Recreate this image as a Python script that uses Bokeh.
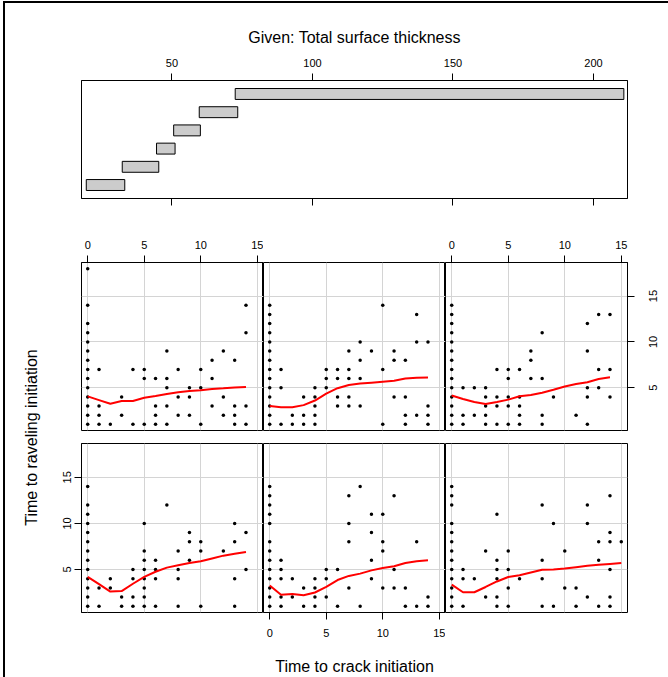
from bokeh.plotting import figure
from bokeh.models import Range1d, LinearAxis, FixedTicker, Grid
from bokeh.layouts import row, column
from bokeh.embed import file_html
from bokeh.resources import INLINE
from bokeh.core.properties import value
import math

FONT = "Liberation Sans"

# ---------------- data ----------------
given_title = "Given: Total surface thickness"
x_title = "Time to crack initiation"
y_title = "Time to raveling initiation"

# conditioning intervals of total surface thickness (overlapping)
thick_lo = [19.5, 32.3, 44.5, 50.6, 59.7, 72.5]
thick_hi = [33.2, 45.3, 51.1, 60.1, 73.4, 210.8]
thick_ticks = [50, 100, 150, 200]
crack_ticks = [0, 5, 10, 15]
ravel_ticks = [5, 10, 15]
ravel_tick_labels = ["5", "10", "15"]

# points per panel: crack time -> list of raveling times
p1_pts = {0: [1, 2, 3, 4, 5, 6, 7, 8, 9, 10, 11, 12, 14], 1: [1, 3], 2: [3, 4], 3: [1, 2],
          4: [1, 2, 4, 5], 5: [1, 2, 3, 4, 5, 6, 7, 10], 6: [1, 4, 5, 6], 7: [12],
          8: [1, 4, 5, 7], 9: [6, 8, 9], 10: [1, 7, 8], 12: [7], 13: [1, 4, 8, 10], 14: [5, 9]}
p2_pts = {0: [1, 2, 3, 4, 5, 6, 7, 8, 10, 11, 12, 13, 14], 1: [1, 2, 4, 5, 6], 2: [2, 4], 3: [1, 3],
          4: [1, 2, 3, 4], 5: [2, 4, 5], 6: [1, 5], 7: [3, 8, 10, 13], 8: [1, 14],
          9: [4, 6, 9, 11], 10: [3, 7, 8, 11], 11: [3, 5, 13], 12: [1, 3], 13: [1, 8], 14: [1, 2]}
p3_pts = {0: [1, 2, 3, 4, 5, 6, 7, 8, 9, 10, 12, 13, 14], 1: [1, 4, 5], 2: [4], 3: [2, 7],
          4: [1, 2, 4, 5, 6, 11], 5: [1, 3, 5, 7], 6: [4], 8: [1, 4, 6, 12], 9: [1, 10],
          10: [3, 7], 11: [1, 3], 12: [2, 10, 12], 13: [1, 6, 8], 14: [1, 2, 5, 8, 9, 13], 15: [8]}
p4_pts = {0: [1, 2, 3, 4, 5, 6, 7, 8, 9, 10, 11, 12, 14, 18], 1: [1, 2, 3, 7], 2: [1], 3: [2, 4],
          4: [1, 7], 5: [1, 6, 7], 6: [1, 2, 3, 6], 7: [1, 3, 5, 6, 9], 8: [2, 4, 7],
          9: [2, 4, 5], 10: [1, 5, 7], 11: [3, 6, 8], 12: [2, 4, 9], 13: [1, 2, 3, 8], 14: [1, 3, 11, 14]}
p5_pts = {0: [1, 2, 3, 4, 5, 6, 7, 8, 9, 10, 11, 12, 13, 14], 1: [1, 5, 7], 2: [1, 2], 3: [1, 2, 4],
          4: [1, 2, 3, 4, 5], 5: [5, 6, 7], 6: [3, 4, 6, 7], 7: [3, 4, 6, 7, 9], 8: [3, 6, 8, 10],
          9: [9], 10: [1, 7, 14], 11: [4, 8, 9], 12: [1, 2, 4, 8], 13: [2, 10, 13], 14: [1, 2, 3, 10]}
p6_pts = {0: [1, 2, 3, 4, 5, 6, 7, 8, 9, 10, 11, 12, 13, 14], 1: [1, 2, 5], 2: [2, 5], 3: [1, 2, 3, 4, 5],
          4: [1, 3, 4, 7], 5: [1, 3, 4, 6, 7], 6: [1, 2, 3, 4, 7], 7: [6, 8, 9], 8: [1, 2, 6, 11],
          9: [4], 11: [2], 12: [1, 4, 5, 9, 12], 13: [5, 7, 13], 14: [4, 7, 13]}

# lowess smooth per panel
s1_x = [0, 1, 2, 3, 4, 5, 6, 7, 8, 9, 10, 11, 12, 13, 14]
s1_y = [4.2, 3.4, 2.6, 2.65, 3.45, 4.2, 4.75, 5.2, 5.45, 5.7, 5.9, 6.2, 6.5, 6.7, 6.9]
s2_x = [0, 1, 2, 3, 4, 5, 6, 7, 8, 9, 10, 11, 12, 13, 14]
s2_y = [3.25, 2.25, 2.35, 2.2, 2.5, 3.1, 3.85, 4.3, 4.55, 4.9, 5.15, 5.35, 5.7, 5.9, 6.0]
s3_x = [0, 1, 2, 3, 4, 5, 6, 7, 8, 9, 10, 11, 12, 13, 14, 15]
s3_y = [3.36, 2.53, 2.53, 3.1, 3.7, 4.18, 4.38, 4.67, 4.96, 5.0, 5.1, 5.25, 5.4, 5.5, 5.6, 5.7]
s4_x = [0, 1, 2, 3, 4, 5, 6, 7, 8, 9, 10, 11, 12, 13, 14]
s4_y = [4.05, 3.65, 3.25, 3.55, 3.55, 3.9, 4.1, 4.32, 4.5, 4.64, 4.72, 4.85, 4.93, 5.03, 5.07]
s5_x = [0, 1, 2, 3, 4, 5, 6, 7, 8, 9, 10, 11, 12, 13, 14]
s5_y = [3.0, 2.88, 2.88, 3.1, 3.6, 4.35, 4.95, 5.3, 5.45, 5.55, 5.65, 5.75, 6.0, 6.1, 6.12]
s6_x = [0, 1, 2, 3, 4, 5, 6, 7, 8, 9, 10, 11, 12, 13, 14]
s6_y = [4.15, 3.77, 3.44, 3.22, 3.44, 3.7, 4.06, 4.2, 4.46, 4.78, 5.14, 5.4, 5.6, 5.95, 6.14]

# ---------------- layout constants ----------------
W = 668
XR = (-0.55, 15.55)
YR = (0.33, 18.67)
FRAME_W = 182
LEFT_W = 53          # width of y-title strip
GIVEN_H = 230
TOP_H = 213
BOT_H = 234
TICK = 7
GRID_COL = "#d4d4d4"
RSTRIP_W = 27


def expand(pts):
    xs, ys = [], []
    for k, vals in pts.items():
        for v in vals:
            xs.append(k)
            ys.append(v)
    return xs, ys


def make_axis(ticks, standoff, vertical=False, hide=False):
    ax = LinearAxis(ticker=FixedTicker(ticks=ticks), major_tick_out=TICK, major_tick_in=0,
                    minor_tick_out=0, minor_tick_in=0, axis_line_color="black",
                    major_tick_line_color="black", major_label_standoff=standoff,
                    major_label_text_font=FONT, major_label_text_font_size="11px",
                    major_label_text_color="black")
    if vertical:
        ax.major_label_orientation = "vertical"
    if hide:
        ax.major_label_text_color = None
        ax.major_label_text_font_size = "0px"
        ax.major_label_standoff = 0
    return ax


def bare(width, height, mb, xr, yr):
    return figure(width=width, height=height, x_range=xr, y_range=yr,
                  x_axis_location=None, y_axis_location=None, toolbar_location=None,
                  output_backend="svg", min_border_left=mb[0], min_border_right=mb[1],
                  min_border_top=mb[2], min_border_bottom=mb[3],
                  border_fill_color=None)


def panel(pts, sx, sy, width, height, mb, axes=()):
    p = bare(width, height, mb, Range1d(*XR), Range1d(*YR))
    p.outline_line_color = "black"
    p.outline_line_width = 1
    p.grid.visible = False
    p.add_layout(Grid(dimension=0, ticker=FixedTicker(ticks=crack_ticks),
                      grid_line_color=GRID_COL, grid_line_width=1))
    p.add_layout(Grid(dimension=1, ticker=FixedTicker(ticks=ravel_ticks),
                      grid_line_color=GRID_COL, grid_line_width=1))
    xs, ys = expand(pts)
    p.scatter(xs, ys, size=3.5, color="black", line_width=0)
    p.line(sx, sy, color="red", line_width=2)
    for side in axes:
        if side == "above":
            p.add_layout(make_axis(crack_ticks, 7), "above")
        elif side == "below":
            ax = make_axis(crack_ticks, 9)
            ax.axis_label = x_title
            ax.axis_label_text_font = FONT
            ax.axis_label_text_font_size = "16px"
            ax.axis_label_text_font_style = "normal"
            ax.axis_label_text_color = "black"
            ax.axis_label_standoff = 18
            p.add_layout(ax, "below")
        elif side == "left":
            p.add_layout(make_axis(ravel_ticks, 3, vertical=True), "left")
        elif side == "right":
            p.add_layout(make_axis(ravel_ticks, 0, hide=True), "right")
    return p


# ---------------- given panel ----------------
g = bare(W, GIVEN_H, (81, 41, 80, 32), Range1d(17.8, 212.1), Range1d(0.26, 6.74))
g.outline_line_color = "black"
g.grid.visible = False
g.title.text = given_title
g.title.align = "center"
g.title.text_font = FONT
g.title.text_font_size = "16px"
g.title.text_font_style = "normal"
g.title.text_color = "black"
g.title.standoff = 20
g.add_layout(make_axis(thick_ticks, 7), "above")
g.add_layout(make_axis(thick_ticks, 0, hide=True), "below")
idx = list(range(1, len(thick_lo) + 1))
g.quad(left=thick_lo, right=thick_hi, bottom=[i - 0.3 for i in idx], top=[i + 0.3 for i in idx],
       fill_color="#cccccc", line_color="black", line_width=1)

# ---------------- y title strip ----------------
lf = bare(LEFT_W, TOP_H + BOT_H, (0, 0, 32, 65), Range1d(-1, 1), Range1d(-1, 1))
lf.outline_line_color = None
lf.background_fill_color = None
lf.grid.visible = False
lf.text(x=[0], y=[0], text=[y_title], angle=math.pi / 2, text_align="center",
        text_baseline="middle", text_font=value(FONT), text_font_size="16px",
        text_color="black", x_offset=4)

# ---------------- conditioning panels ----------------
LW = 28 + FRAME_W
RW = FRAME_W + 41
TRW = FRAME_W + 14
tl = panel(p4_pts, s4_x, s4_y, LW, TOP_H, (28, 0, 32, 13), axes=("above",))
tm = panel(p5_pts, s5_x, s5_y, FRAME_W, TOP_H, (0, 0, 32, 13))
tr = panel(p6_pts, s6_x, s6_y, TRW, TOP_H, (0, 14, 32, 13), axes=("above", "right"))
bl = panel(p1_pts, s1_x, s1_y, LW, BOT_H, (28, 0, 0, 65), axes=("left",))
bm = panel(p2_pts, s2_x, s2_y, FRAME_W, BOT_H, (0, 0, 0, 65), axes=("below",))
br = panel(p3_pts, s3_x, s3_y, RW, BOT_H, (0, 41, 0, 65))

# right-hand tick labels of the top-right panel (rotated, reading upwards)
rs = bare(RSTRIP_W, TOP_H, (0, 0, 32, 13), Range1d(0, 1), Range1d(*YR))
rs.outline_line_color = None
rs.background_fill_color = None
rs.grid.visible = False
rs.text(x=[0] * len(ravel_ticks), y=ravel_ticks, text=ravel_tick_labels, angle=math.pi / 2,
        text_align="center", text_baseline="alphabetic", text_font=value(FONT),
        text_font_size="11px", text_color="black", x_offset=11.5)

grid = column(row(tl, tm, tr, rs), row(bl, bm, br))
root = column(g, row(lf, grid))
root.styles = {"box-shadow": "inset 3px 1px 0 0 #ffffff, inset 5px 3px 0 0 #000000"}

open("out.html", "w").write(file_html(root, INLINE))
